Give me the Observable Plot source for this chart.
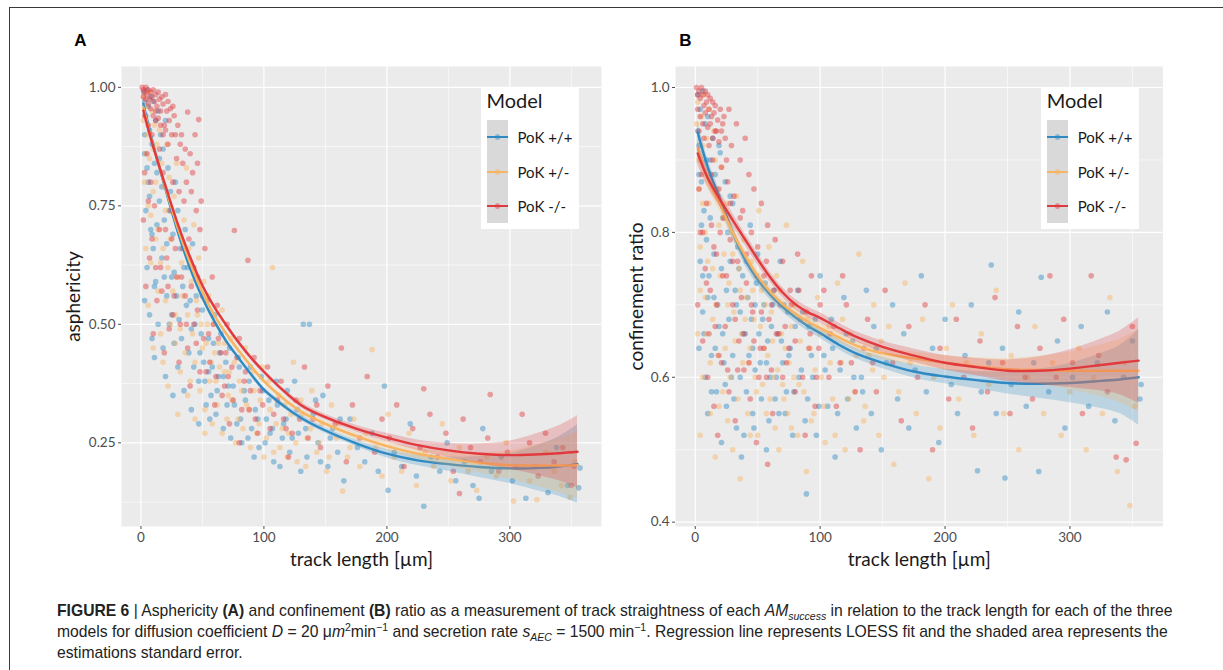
<!DOCTYPE html>
<html><head><meta charset="utf-8">
<script src="https://cdn.jsdelivr.net/npm/d3@7"></script>
<script src="https://cdn.jsdelivr.net/npm/@observablehq/plot@0.6"></script>
<style>
body{margin:0;background:#fff;width:1223px;height:670px;position:relative;overflow:hidden;font-family:Lato,"Noto Sans",sans-serif}
#box{position:absolute;left:9px;top:7px;width:1300px;height:700px;border:1px solid #3a3a3a}
.plot{position:absolute;top:0}
.legend{position:absolute;top:87px;width:98px;height:142px;background:#fff}
.legend .ttl{position:absolute;left:6px;top:1px;font-size:20px;color:#1a1a1a}
.legend .strip{position:absolute;left:6.5px;top:33px;width:21px;height:103px;background:#d9d9d9}
.legend .key{position:absolute;left:6.5px;width:21px;height:2.6px}
.legend .dot{position:absolute;width:5.2px;height:5.2px;border-radius:50%;opacity:.45}
.legend .lab{position:absolute;left:37px;font-size:15px;color:#1a1a1a;transform:translateY(-50%);white-space:nowrap}
#caption{position:absolute;left:57px;top:600px;font-family:"Liberation Sans Narrow","Liberation Sans",sans-serif;font-size:15.7px;line-height:21px;color:#222;white-space:nowrap}
#caption sub,#caption sup{font-size:10.5px;line-height:0}
</style></head><body>
<div id="box"></div>
<div id="pa" class="plot" style="left:0"></div>
<div id="pb" class="plot" style="left:610px"></div>
<div id="caption"><b>FIGURE 6</b> | Asphericity <b>(A)</b> and confinement <b>(B)</b> ratio as a measurement of track straightness of each <i>AM<sub>success</sub></i> in relation to the track length for each of the three<br>models for diffusion coefficient <i>D</i> = 20 μ<i>m</i><sup>2</sup>min<sup>−1</sup> and secretion rate <i>s<sub>AEC</sub></i> = 1500 min<sup>−1</sup>. Regression line represents LOESS fit and the shaded area represents the<br>estimations standard error.</div>
<script>
const models = ["PoK +/+", "PoK +/-", "PoK -/-"];
const colors = ["#2f8ac4", "#f8b461", "#e03a3e"];

// ---- Panel A: asphericity points [track length, asphericity]
const aspBlue = [[2,0.99],[3,0.97],[5,0.995],[6,0.96],[8,0.98],[4,0.94],[7,0.91],[10,0.97],[12,0.93],[9,0.88],[3,0.86],[14,0.95],[11,0.84],[6,0.8],[16,0.9],[13,0.82],[18,0.87],[20,0.93],[4,0.74],[8,0.7],[15,0.76],[22,0.83],[10,0.66],[19,0.72],[24,0.78],[5,0.62],[12,0.59],[17,0.64],[26,0.69],[28,0.8],[21,0.56],[3,0.55],[30,0.74],[7,0.52],[14,0.5],[25,0.6],[32,0.66],[9,0.47],[34,0.58],[18,0.45],[23,0.5],[36,0.7],[38,0.62],[11,0.43],[27,0.46],[40,0.55],[42,0.67],[20,0.39],[30,0.41],[44,0.5],[46,0.6],[48,0.44],[35,0.36],[50,0.53],[52,0.38],[26,0.35],[55,0.47],[58,0.41],[41,0.32],[60,0.52],[62,0.36],[64,0.44],[47,0.29],[67,0.39],[70,0.33],[72,0.45],[56,0.3],[75,0.37],[78,0.29],[80,0.41],[82,0.25],[85,0.34],[88,0.38],[90,0.28],[93,0.32],[96,0.24],[99,0.36],[102,0.3],[105,0.27],[108,0.21],[111,0.33],[115,0.26],[118,0.3],[121,0.23],[125,0.38],[128,0.27],[132,0.5],[137,0.5],[135,0.22],[140,0.31],[144,0.25],[148,0.35],[152,0.2],[156,0.28],[160,0.23],[165,0.17],[170,0.3],[176,0.24],[182,0.21],[188,0.27],[193,0.19],[198,0.37],[201,0.15],[206,0.23],[212,0.2],[219,0.29],[224,0.18],[230,0.116],[236,0.22],[243,0.19],[249,0.25],[256,0.17],[263,0.21],[270,0.16],[278,0.28],[275,0.133],[285,0.19],[293,0.22],[302,0.17],[313,0.133],[320,0.2],[331,0.145],[338,0.24],[347,0.16],[356,0.155],[357,0.197],
[3,0.9],[5,0.83],[7,0.77],[9,0.69],[11,0.58],[13,0.71],[15,0.85],[17,0.79],[19,0.6],[21,0.67],[23,0.74],[25,0.52],[27,0.61],[29,0.56],[31,0.51],[33,0.47],[35,0.62],[37,0.54],[39,0.44],[41,0.49],[43,0.41],[45,0.56],[47,0.38],[49,0.48],[51,0.42],[53,0.33],[55,0.4],[57,0.35],[59,0.46],[61,0.31],[63,0.39],[65,0.48],[67,0.28],[69,0.42],[71,0.37],[73,0.26],[76,0.33],[79,0.43],[81,0.3],[84,0.36],[87,0.26],[89,0.41],[92,0.22],[95,0.3],[98,0.39],[101,0.25],[104,0.34],[107,0.28],[110,0.38],[113,0.2],[116,0.29],[119,0.36],[123,0.26],[127,0.32],[130,0.19],[134,0.28],[142,0.34],[146,0.21],[154,0.26],[162,0.3]];
const aspOrange = [[2,0.98],[4,0.96],[6,0.99],[9,0.95],[5,0.9],[11,0.92],[7,0.85],[13,0.88],[3,0.8],[15,0.91],[10,0.78],[17,0.84],[19,0.79],[8,0.73],[21,0.88],[23,0.81],[12,0.68],[25,0.74],[4,0.66],[16,0.63],[27,0.77],[29,0.84],[14,0.57],[31,0.7],[6,0.54],[20,0.55],[33,0.63],[35,0.72],[24,0.5],[37,0.83],[39,0.66],[10,0.45],[28,0.46],[41,0.59],[43,0.71],[18,0.42],[45,0.55],[47,0.64],[32,0.4],[49,0.5],[51,0.59],[22,0.37],[53,0.46],[55,0.56],[38,0.35],[57,0.42],[59,0.5],[61,0.38],[63,0.46],[30,0.31],[66,0.53],[68,0.4],[44,0.3],[71,0.35],[73,0.47],[76,0.42],[79,0.3],[52,0.27],[82,0.36],[85,0.45],[88,0.32],[91,0.4],[94,0.27],[97,0.34],[100,0.22],[104,0.38],[107,0.62],[110,0.29],[113,0.24],[117,0.33],[120,0.27],[124,0.42],[127,0.21],[131,0.31],[135,0.26],[139,0.36],[143,0.23],[147,0.29],[151,0.19],[155,0.33],[159,0.26],[164,0.148],[168,0.22],[173,0.3],[178,0.2],[183,0.27],[188,0.447],[191,0.24],[196,0.18],[201,0.31],[206,0.22],[212,0.19],[218,0.27],[224,0.16],[231,0.23],[238,0.2],[245,0.29],[252,0.17],[259,0.24],[266,0.19],[273,0.15],[281,0.22],[289,0.18],[297,0.25],[303,0.127],[310,0.2],[316,0.17],[322,0.13],[329,0.23],[336,0.19],[342,0.16],[349,0.135],[353,0.21],
[2,0.93],[4,0.86],[6,0.75],[8,0.63],[10,0.87],[12,0.8],[14,0.7],[16,0.48],[18,0.66],[20,0.74],[22,0.62],[24,0.68],[26,0.57],[28,0.52],[30,0.6],[32,0.49],[34,0.56],[36,0.44],[38,0.52],[40,0.38],[42,0.48],[44,0.42],[46,0.52],[48,0.36],[50,0.45],[52,0.32],[54,0.5],[56,0.38],[58,0.29],[60,0.44],[62,0.33],[64,0.41],[66,0.27],[68,0.46],[70,0.3],[72,0.4],[74,0.34],[77,0.25],[80,0.38],[83,0.28],[86,0.33],[89,0.24],[92,0.36],[96,0.29],[99,0.41],[102,0.26],[105,0.32],[108,0.23],[112,0.35],[115,0.28],[119,0.22],[122,0.31],[126,0.25],[130,0.34],[134,0.2],[138,0.28],[145,0.25],[153,0.22],[161,0.29],[170,0.24]];
const aspRed = [[1,1.0],[2,0.995],[3,0.99],[4,1.0],[5,0.985],[6,0.995],[7,0.975],[8,0.99],[9,0.98],[10,0.995],[11,0.97],[12,0.985],[13,0.96],[14,0.99],[15,0.975],[16,0.95],[17,0.98],[18,0.965],[20,0.985],[22,0.97],[24,0.955],[3,0.94],[6,0.92],[9,0.9],[12,0.93],[19,0.92],[25,0.9],[27,0.94],[30,0.92],[38,0.948],[47,0.932],[5,0.86],[15,0.87],[22,0.88],[29,0.85],[33,0.9],[36,0.87],[40,0.86],[8,0.8],[18,0.82],[26,0.8],[31,0.78],[42,0.82],[2,0.72],[11,0.75],[20,0.7],[24,0.74],[35,0.76],[45,0.74],[7,0.64],[16,0.62],[28,0.66],[39,0.68],[48,0.7],[4,0.58],[13,0.55],[22,0.58],[33,0.6],[43,0.62],[52,0.66],[10,0.48],[26,0.52],[37,0.5],[50,0.56],[58,0.6],[76,0.698],[87,0.635],[19,0.44],[31,0.42],[45,0.46],[55,0.48],[62,0.54],[70,0.5],[40,0.37],[53,0.4],[65,0.44],[74,0.41],[80,0.47],[60,0.33],[68,0.37],[84,0.38],[92,0.43],[72,0.29],[88,0.32],[97,0.36],[103,0.41],[80,0.25],[95,0.27],[108,0.31],[114,0.38],[120,0.22],[118,0.28],[126,0.34],[133,0.41],[140,0.3],[146,0.24],[152,0.37],[158,0.29],[163,0.45],[167,0.21],[172,0.33],[178,0.26],[184,0.39],[190,0.23],[196,0.3],[202,0.26],[208,0.33],[214,0.2],[221,0.28],[230,0.364],[227,0.24],[235,0.31],[241,0.22],[248,0.27],[254,0.19],[259,0.143],[262,0.3],[268,0.24],[276,0.21],[284,0.352],[282,0.26],[291,0.19],[298,0.23],[305,0.2],[310,0.31],[316,0.25],[323,0.18],[329,0.27],[336,0.21],[343,0.24],[350,0.16],[352,0.2],
[2,0.98],[4,0.975],[6,0.965],[8,0.955],[10,0.94],[12,0.95],[14,0.935],[16,0.92],[18,0.9],[20,0.91],[21,0.95],[23,0.93],[26,0.96],[28,0.9],[32,0.88],[34,0.84],[37,0.8],[41,0.78],[44,0.9],[46,0.84],[49,0.76],[3,0.82],[6,0.76],[9,0.68],[12,0.62],[15,0.7],[17,0.57],[21,0.64],[23,0.49],[25,0.68],[27,0.56],[29,0.6],[32,0.5],[34,0.66],[36,0.56],[38,0.45],[41,0.58],[43,0.5],[46,0.53],[48,0.4],[51,0.47],[54,0.55],[56,0.42],[59,0.5],[61,0.39],[63,0.47],[66,0.35],[69,0.44],[71,0.39],[75,0.34],[78,0.43],[82,0.32],[85,0.4],[89,0.36],[93,0.3],[99,0.33],[105,0.28],[111,0.34],[116,0.3],[123,0.27],[129,0.3],[136,0.26],[143,0.33]];

// ---- Panel B: confinement ratio points [track length, ratio]
const confBlue = [[2,0.99],[4,0.97],[6,0.995],[8,0.95],[3,0.92],[10,0.96],[12,0.9],[5,0.87],[14,0.93],[7,0.83],[16,0.88],[18,0.85],[9,0.79],[20,0.91],[22,0.82],[4,0.76],[11,0.74],[24,0.87],[26,0.8],[15,0.71],[28,0.76],[6,0.69],[30,0.84],[19,0.67],[32,0.72],[3,0.64],[13,0.63],[34,0.78],[36,0.69],[23,0.62],[8,0.6],[38,0.74],[40,0.66],[17,0.58],[42,0.71],[29,0.6],[44,0.81],[10,0.55],[46,0.64],[25,0.56],[48,0.7],[50,0.77],[33,0.53],[52,0.62],[54,0.68],[41,0.58],[56,0.73],[21,0.51],[58,0.65],[60,0.6],[37,0.49],[62,0.7],[64,0.57],[66,0.66],[47,0.53],[68,0.76],[70,0.62],[72,0.55],[74,0.69],[57,0.5],[76,0.64],[79,0.58],[82,0.72],[85,0.61],[89,0.439],[88,0.54],[91,0.67],[94,0.6],[97,0.52],[100,0.74],[103,0.63],[106,0.56],[109,0.68],[112,0.49],[116,0.61],[119,0.71],[122,0.57],[126,0.65],[129,0.53],[133,0.6],[137,0.72],[141,0.55],[145,0.64],[149,0.5],[153,0.62],[158,0.7],[162,0.57],[167,0.66],[171,0.53],[176,0.61],[181,0.74],[185,0.58],[190,0.64],[195,0.51],[200,0.68],[205,0.59],[210,0.55],[216,0.63],[221,0.7],[226,0.471],[229,0.58],[237,0.755],[235,0.62],[241,0.55],[248,0.461],[246,0.64],[253,0.59],[259,0.69],[265,0.56],[271,0.62],[275,0.47],[277,0.738],[283,0.58],[290,0.65],[296,0.53],[302,0.6],[309,0.67],[315,0.56],[322,0.62],[330,0.69],[336,0.54],[343,0.6],[350,0.65],[356,0.57],[357,0.59],
[2,0.94],[3,0.88],[5,0.81],[6,0.74],[7,0.66],[9,0.9],[10,0.71],[12,0.82],[13,0.58],[15,0.77],[16,0.64],[18,0.7],[19,0.92],[21,0.75],[22,0.66],[24,0.59],[25,0.72],[27,0.68],[28,0.85],[30,0.63],[31,0.57],[33,0.7],[35,0.75],[36,0.6],[38,0.66],[39,0.52],[41,0.76],[43,0.63],[45,0.68],[46,0.55],[48,0.61],[49,0.73],[51,0.66],[53,0.57],[55,0.7],[57,0.62],[59,0.54],[61,0.67],[63,0.72],[65,0.6],[67,0.55],[69,0.65],[71,0.7],[73,0.58],[75,0.63],[78,0.52],[80,0.67],[83,0.6],[86,0.69],[90,0.57],[93,0.63],[96,0.68],[99,0.56],[104,0.61],[110,0.64],[114,0.55],[121,0.66],[127,0.6],[134,0.58],[143,0.67]];
const confOrange = [[2,0.98],[5,0.96],[7,0.99],[3,0.9],[9,0.93],[11,0.97],[6,0.84],[13,0.88],[15,0.94],[4,0.78],[17,0.86],[10,0.76],[19,0.81],[8,0.71],[21,0.89],[23,0.77],[14,0.68],[25,0.84],[2,0.66],[27,0.73],[18,0.63],[29,0.8],[6,0.6],[31,0.69],[22,0.58],[33,0.85],[35,0.75],[12,0.55],[37,0.66],[26,0.54],[39,0.79],[41,0.71],[4,0.52],[43,0.62],[30,0.5],[45,0.76],[47,0.68],[16,0.49],[49,0.58],[51,0.83],[53,0.72],[36,0.46],[55,0.64],[57,0.55],[59,0.78],[61,0.69],[44,0.52],[63,0.6],[65,0.74],[67,0.5],[69,0.66],[71,0.57],[73,0.81],[75,0.62],[77,0.53],[80,0.7],[83,0.59],[86,0.76],[89,0.47],[92,0.64],[95,0.55],[98,0.71],[101,0.6],[104,0.51],[107,0.67],[110,0.57],[114,0.73],[117,0.62],[120,0.5],[124,0.66],[128,0.58],[131,0.77],[135,0.54],[139,0.63],[143,0.7],[147,0.52],[151,0.6],[155,0.67],[159,0.48],[163,0.58],[168,0.73],[172,0.62],[177,0.55],[182,0.68],[187,0.46],[191,0.6],[196,0.53],[201,0.64],[206,0.7],[211,0.57],[217,0.62],[223,0.52],[229,0.66],[235,0.59],[241,0.72],[247,0.55],[253,0.63],[259,0.5],[266,0.6],[272,0.67],[279,0.55],[286,0.62],[293,0.52],[300,0.58],[307,0.64],[313,0.5],[319,0.6],[326,0.55],[332,0.71],[338,0.47],[344,0.62],[348,0.423],[352,0.56],
[1,0.95],[3,0.86],[4,0.72],[6,0.92],[8,0.8],[9,0.66],[11,0.84],[12,0.62],[14,0.75],[16,0.9],[17,0.7],[19,0.56],[20,0.74],[22,0.82],[24,0.64],[26,0.7],[28,0.6],[30,0.77],[32,0.65],[34,0.57],[36,0.72],[38,0.62],[40,0.68],[42,0.55],[44,0.64],[46,0.72],[48,0.6],[50,0.52],[52,0.67],[54,0.59],[56,0.7],[58,0.63],[60,0.57],[62,0.65],[64,0.53],[66,0.61],[68,0.72],[70,0.59],[72,0.64],[74,0.55],[77,0.67],[79,0.6],[82,0.52],[84,0.65],[87,0.58],[90,0.68],[93,0.54],[96,0.61],[100,0.66],[103,0.56],[108,0.62],[112,0.52],[118,0.68],[123,0.57],[129,0.63],[136,0.56],[142,0.61],[149,0.65]];
const confRed = [[1,1.0],[2,0.99],[3,0.995],[4,0.985],[5,1.0],[6,0.99],[7,0.975],[8,0.995],[9,0.98],[10,0.99],[11,0.97],[12,0.985],[13,0.96],[14,0.98],[15,0.965],[16,0.975],[18,0.955],[20,0.97],[22,0.95],[3,0.94],[7,0.93],[11,0.92],[17,0.94],[24,0.93],[27,0.97],[5,0.88],[14,0.9],[21,0.89],[29,0.92],[33,0.95],[9,0.84],[19,0.86],[26,0.87],[36,0.9],[40,0.93],[4,0.8],[13,0.81],[23,0.82],[31,0.85],[43,0.88],[8,0.75],[17,0.77],[28,0.79],[38,0.83],[47,0.86],[2,0.7],[12,0.72],[25,0.74],[34,0.76],[45,0.8],[53,0.84],[6,0.65],[16,0.67],[30,0.7],[41,0.73],[50,0.78],[58,0.81],[10,0.6],[21,0.62],[35,0.65],[46,0.69],[55,0.74],[64,0.79],[15,0.56],[27,0.58],[39,0.61],[52,0.64],[61,0.7],[70,0.76],[18,0.52],[32,0.54],[44,0.57],[57,0.6],[67,0.66],[76,0.72],[82,0.77],[49,0.51],[62,0.55],[73,0.62],[84,0.68],[93,0.74],[58,0.48],[80,0.58],[91,0.64],[100,0.7],[108,0.66],[88,0.52],[97,0.6],[113,0.56],[118,0.74],[125,0.62],[132,0.5],[138,0.68],[145,0.58],[152,0.72],[158,0.62],[165,0.54],[171,0.67],[178,0.6],[184,0.7],[190,0.5],[196,0.64],[203,0.57],[209,0.68],[215,0.6],[222,0.53],[228,0.65],[234,0.58],[240,0.71],[246,0.62],[252,0.55],[258,0.67],[264,0.6],[270,0.57],[276,0.64],[284,0.74],[289,0.6],[295,0.68],[302,0.62],[310,0.55],[317,0.74],[323,0.63],[330,0.58],[337,0.49],[345,0.486],[350,0.67],[353,0.509],
[2,0.97],[4,0.96],[6,0.95],[8,0.965],[10,0.945],[12,0.95],[14,0.93],[16,0.94],[19,0.925],[21,0.94],[23,0.96],[25,0.9],[3,0.86],[6,0.8],[9,0.73],[11,0.66],[13,0.88],[15,0.78],[17,0.7],[19,0.63],[20,0.8],[22,0.74],[24,0.67],[26,0.61],[28,0.84],[30,0.76],[32,0.68],[34,0.61],[36,0.82],[37,0.71],[39,0.66],[41,0.77],[43,0.62],[45,0.7],[47,0.65],[49,0.74],[51,0.6],[53,0.69],[55,0.64],[57,0.76],[59,0.68],[61,0.61],[63,0.72],[65,0.66],[68,0.7],[70,0.6],[72,0.67],[75,0.64],[77,0.7],[80,0.65],[83,0.72],[86,0.6],[89,0.69],[92,0.66],[96,0.56],[99,0.64],[103,0.72],[107,0.6],[111,0.67],[116,0.62],[121,0.7],[128,0.58],[135,0.64],[142,0.62]];

// ---- LOESS fits and standard errors
const fitX = [2,10,20,30,40,50,60,70,80,90,100,115,130,150,175,200,225,250,275,300,325,340,355];
const fitA_blue   = [0.965,0.88,0.785,0.695,0.618,0.556,0.505,0.462,0.427,0.393,0.362,0.33,0.303,0.276,0.249,0.227,0.213,0.205,0.199,0.196,0.197,0.2,0.205];
const fitA_orange = [0.958,0.877,0.788,0.703,0.63,0.568,0.518,0.478,0.443,0.41,0.38,0.345,0.316,0.29,0.264,0.243,0.227,0.216,0.208,0.203,0.202,0.202,0.203];
const fitA_red    = [0.951,0.875,0.792,0.712,0.642,0.582,0.535,0.496,0.46,0.428,0.4,0.362,0.33,0.304,0.28,0.261,0.245,0.234,0.227,0.224,0.226,0.228,0.231];
const seA_blue    = [0.01,0.008,0.007,0.006,0.006,0.006,0.005,0.005,0.005,0.005,0.005,0.005,0.006,0.006,0.007,0.009,0.011,0.015,0.022,0.032,0.05,0.063,0.083];
const seA_orange  = [0.01,0.008,0.007,0.006,0.006,0.006,0.005,0.005,0.005,0.005,0.005,0.005,0.006,0.006,0.007,0.009,0.011,0.015,0.021,0.03,0.046,0.057,0.07];
const seA_red     = [0.01,0.008,0.007,0.006,0.006,0.006,0.005,0.005,0.005,0.005,0.005,0.005,0.006,0.006,0.007,0.009,0.011,0.015,0.021,0.03,0.046,0.058,0.076];
const fitB_blue   = [0.938,0.89,0.845,0.8,0.762,0.735,0.714,0.697,0.683,0.671,0.661,0.645,0.632,0.62,0.608,0.601,0.596,0.592,0.591,0.592,0.595,0.597,0.6];
const fitB_orange = [0.916,0.874,0.838,0.8,0.768,0.74,0.718,0.701,0.688,0.677,0.668,0.655,0.643,0.633,0.626,0.62,0.615,0.611,0.61,0.609,0.609,0.609,0.609];
const fitB_red    = [0.909,0.875,0.845,0.817,0.79,0.763,0.738,0.717,0.701,0.69,0.682,0.668,0.655,0.642,0.63,0.62,0.614,0.609,0.609,0.612,0.617,0.62,0.623];
const seB_blue    = [0.015,0.012,0.01,0.009,0.008,0.008,0.007,0.007,0.007,0.007,0.007,0.007,0.007,0.008,0.009,0.01,0.012,0.015,0.02,0.027,0.038,0.047,0.066];
const seB_orange  = [0.015,0.012,0.01,0.009,0.008,0.008,0.007,0.007,0.007,0.007,0.007,0.007,0.007,0.008,0.009,0.01,0.012,0.015,0.019,0.026,0.036,0.044,0.057];
const seB_red     = [0.015,0.012,0.01,0.009,0.008,0.008,0.007,0.007,0.007,0.007,0.007,0.007,0.007,0.008,0.009,0.01,0.012,0.015,0.019,0.026,0.036,0.044,0.059];

// ---- axis ticks
const xMajor = [0, 100, 200, 300];
const xMinor = [50, 150, 250, 350];
const yMajorA = [0.25, 0.5, 0.75, 1.0];
const yMinorA = [0.125, 0.375, 0.625, 0.875];
const yMajorB = [0.4, 0.6, 0.8, 1.0];
const yMinorB = [0.5, 0.7, 0.9];

function fitRows(fit, se) {
  return fitX.map((x, i) => ({x, y: fit[i], lo: fit[i] - se[i], hi: fit[i] + se[i]}));
}

function panel(cfg) {
  const fits = cfg.fits.map((f, i) => fitRows(f, cfg.ses[i]));
  const marks = [
    Plot.frame({fill: "#ebebeb", stroke: null}),
    Plot.gridX(xMinor, {stroke: "#fff", strokeOpacity: 1, strokeWidth: 0.6}),
    Plot.gridY(cfg.yMinor, {stroke: "#fff", strokeOpacity: 1, strokeWidth: 0.6}),
    Plot.gridX(xMajor, {stroke: "#fff", strokeOpacity: 1, strokeWidth: 1.2}),
    Plot.gridY(cfg.yMajor, {stroke: "#fff", strokeOpacity: 1, strokeWidth: 1.2}),
    Plot.axisX(xMajor, {tickSize: 3, tickPadding: 3, label: null, fontSize: 13.5, color: "#4d4d4d"}),
    Plot.axisY(cfg.yMajor, {tickSize: 3, tickPadding: 3, label: null, fontSize: 13.5, color: "#4d4d4d", tickFormat: cfg.fmt})
  ];
  cfg.pts.forEach((p, i) => marks.push(
    Plot.dot(p, {x: d => d[0], y: d => d[1], r: 2.8, fill: colors[i], fillOpacity: 0.45, stroke: null})
  ));
  fits.forEach((f, i) => {
    marks.push(Plot.areaY(f, {x: "x", y1: "lo", y2: "hi", fill: colors[i], fillOpacity: 0.25, curve: "catmull-rom"}));
    marks.push(Plot.line(f, {x: "x", y: "y", stroke: colors[i], strokeWidth: 2.4, curve: "catmull-rom"}));
  });
  marks.push(
    Plot.text([cfg.yLabel], {frameAnchor: "left", dx: cfg.yLabelDx, rotate: -90, textAnchor: "middle", lineAnchor: "middle", fontSize: 19, fill: "#1a1a1a"}),
    Plot.text(["track length [µm]"], {frameAnchor: "bottom", dy: 33, textAnchor: "middle", lineAnchor: "middle", fontSize: 19, fill: "#1a1a1a"}),
    Plot.text([cfg.letter], {frameAnchor: "top-left", dx: cfg.letterDx, dy: -26, textAnchor: "middle", lineAnchor: "middle", fontSize: 17, fontWeight: "bold", fontFamily: "Liberation Sans, Arial, sans-serif", fill: "#000"})
  );
  return Plot.plot({
    width: cfg.width, height: 580,
    marginLeft: cfg.mL, marginRight: cfg.mR, marginTop: 66, marginBottom: 54,
    style: {fontFamily: "Lato, 'Noto Sans', sans-serif", background: "transparent", overflow: "visible"},
    x: {domain: [-15.8, 374.5]},
    y: {domain: cfg.yDomain},
    marks
  });
}

document.getElementById("pa").append(panel({
  width: 610, mL: 121, mR: 9, yDomain: [0.0734, 1.044],
  yMajor: yMajorA, yMinor: yMinorA, fmt: d3.format(".2f"),
  yLabel: "asphericity", yLabelDx: -48, letter: "A", letterDx: -41,
  pts: [aspBlue, aspOrange, aspRed],
  fits: [fitA_blue, fitA_orange, fitA_red], ses: [seA_blue, seA_orange, seA_red]
}));
document.getElementById("pb").append(panel({
  width: 553, mL: 65, mR: 0.5, yDomain: [0.394, 1.029],
  yMajor: yMajorB, yMinor: yMinorB, fmt: d3.format(".1f"),
  yLabel: "confinement ratio", yLabelDx: -39, letter: "B", letterDx: 10,
  pts: [confBlue, confOrange, confRed],
  fits: [fitB_blue, fitB_orange, fitB_red], ses: [seB_blue, seB_orange, seB_red]
}));

function legend(left) {
  const box = document.createElement("div");
  box.className = "legend";
  box.style.left = left + "px";
  box.innerHTML = `<div class="ttl">Model</div><div class="strip"></div>`;
  const ys = [50, 85, 119];
  models.forEach((m, i) => {
    const k = document.createElement("div");
    k.className = "key"; k.style.top = (ys[i] - 1.3) + "px"; k.style.background = colors[i];
    const d = document.createElement("div");
    d.className = "dot"; d.style.left = "14.4px"; d.style.top = (ys[i] - 2.6) + "px"; d.style.background = colors[i];
    const l = document.createElement("div");
    l.className = "lab"; l.style.top = ys[i] + "px"; l.textContent = m;
    box.append(k, d, l);
  });
  document.body.append(box);
}
legend(480.5);
legend(1040.7);
</script>
</body></html>
